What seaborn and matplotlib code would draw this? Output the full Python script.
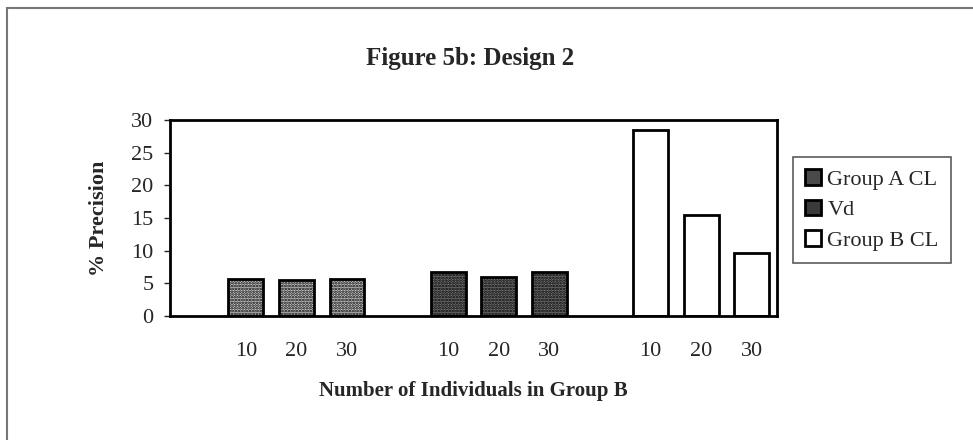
import matplotlib
matplotlib.use("Agg")
import matplotlib.pyplot as plt
from matplotlib.patches import Rectangle
import pandas as pd
import seaborn as sns

# Precision (%) for each sample size of Group B, per parameter
sizes = [10, 20, 30]
series = ["Group A CL", "Vd", "Group B CL"]
group_a_cl = [5.7, 5.5, 5.7]
vd = [6.7, 5.9, 6.7]
group_b_cl = [28.4, 15.4, 9.7]
yticks = [0, 5, 10, 15, 20, 25, 30]

values = {"Group A CL": group_a_cl, "Vd": vd, "Group B CL": group_b_cl}

# one categorical slot per bar, with an empty spacer slot in front of each block
rows = []
order = []
tick_labels = []
for k, name in enumerate(series):
    order.append(f"gap{k}")
    tick_labels.append("")
    for s, v in zip(sizes, values[name]):
        slot = f"{name}|{s}"
        order.append(slot)
        tick_labels.append(str(s))
        rows.append({"slot": slot, "value": v, "series": name})
df = pd.DataFrame(rows)

sns.set_theme(style="white")
plt.rcParams["font.family"] = ["Liberation Serif", "DejaVu Serif"]
plt.rcParams["hatch.linewidth"] = 1.3

fig = plt.figure(figsize=(9.73, 4.40), dpi=100)
fig.patch.set_facecolor("white")
ax = fig.add_axes([170 / 973, 1 - 316 / 440, 607 / 973, 196 / 440])

sns.barplot(data=df, x="slot", y="value", hue="series", order=order,
            hue_order=series, dodge=False, width=0.69, ax=ax,
            palette=["#c8c8c8", "#6e6e6e", "white"], edgecolor="black",
            linewidth=2.0, saturation=1, legend=True)

styles = {"Group A CL": ("#cfcfcf", "......"), "Vd": ("#777777", "......"),
          "Group B CL": ("white", None)}
for container, name in zip(ax.containers, series):
    fc, hatch = styles[name]
    for bar in container:
        bar.set_facecolor(fc)
        bar.set_edgecolor("black")
        if hatch:
            bar.set_hatch(hatch)

ax.set_ylim(0, 30)
ax.set_yticks(yticks)
ax.set_xlim(-0.5, len(order) - 0.5)
ax.set_xticks(range(len(order)))
ax.set_xticklabels(tick_labels)
ax.tick_params(axis="x", length=0, pad=19, labelsize=16)
ax.tick_params(axis="y", left=True, direction="out", length=4, width=1,
               pad=8, labelsize=16)
for sp in ax.spines.values():
    sp.set_visible(True)
    sp.set_color("black")
    sp.set_linewidth(2.0)
ax.set_facecolor("white")

ax.set_xlabel("Number of Individuals in Group B", fontsize=15,
              fontweight="bold", labelpad=14)
ax.set_ylabel("% Precision", fontsize=16, fontweight="bold", labelpad=16)

fig.text(470 / 973, 1 - 58 / 440, "Figure 5b: Design 2", ha="center",
         va="center", fontsize=18, fontweight="bold")

handles, labels = ax.get_legend_handles_labels()
ax.get_legend().remove()
leg = fig.legend(handles, labels, loc="upper left",
                 bbox_to_anchor=(793 / 973, 1 - 157 / 440),
                 frameon=True, fancybox=False, shadow=False, fontsize=16,
                 handlelength=0.7, handleheight=0.7, handletextpad=0.3,
                 labelspacing=0.45, borderpad=0.55, borderaxespad=0)
leg.get_frame().set_edgecolor("#333333")
leg.get_frame().set_linewidth(1.2)
# small legend keys: the dotted fills read as dark squares at this size
key_fills = ["#4a4a4a", "#3a3a3a", "white"]
for patch, fc in zip(leg.get_patches(), key_fills):
    patch.set_facecolor(fc)
    patch.set_edgecolor("black")
    patch.set_linewidth(2.0)

# outer chart frame (top and left edges visible)
fig.add_artist(Rectangle((7 / 973, -0.05), 1.0, 1 - 8 / 440 + 0.05,
                         transform=fig.transFigure, fill=False,
                         edgecolor="#777777", linewidth=1.5))

fig.savefig("out.png", dpi=100, facecolor="white")
